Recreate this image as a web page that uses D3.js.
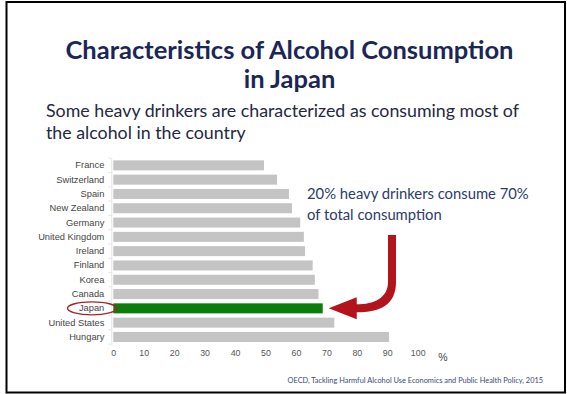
<!DOCTYPE html>
<html>
<head>
<meta charset="utf-8">
<script src="https://cdn.jsdelivr.net/npm/d3@7"></script>
<style>
  html, body { margin: 0; padding: 0; background: #fff; }
  svg { display: block; }
</style>
</head>
<body>
<svg id="chart" width="567" height="394"></svg>
<script>
// Share of total alcohol consumed by the heaviest-drinking 20% of the population
const countries = ["France", "Switzerland", "Spain", "New Zealand", "Germany", "United Kingdom",
  "Ireland", "Finland", "Korea", "Canada", "Japan", "United States", "Hungary"];
const shares = [49.5, 53.8, 57.7, 58.7, 61.4, 62.6, 63, 65.5, 66.2, 67.4, 68.8, 72.6, 90.6];
const xTicks = [0, 10, 20, 30, 40, 50, 60, 70, 80, 90, 100];
const highlight = "Japan";

const titleLines = ["Characteristics of Alcohol Consumption", "in Japan"];
const subtitleLines = ["Some heavy drinkers are characterized as consuming most of",
  "the alcohol in the country"];
const noteLines = ["20% heavy drinkers consume 70%", "of total consumption"];
const sourceText = "OECD, Tackling Harmful Alcohol Use Economics and Public Health Policy, 2015";

const data = countries.map((c, i) => ({ country: c, value: shares[i] }));

const svg = d3.select("#chart");
const sans = "Lato, 'Open Sans', sans-serif";
const arial = "'Liberation Sans', Arial, sans-serif";

// slide frame
svg.append("rect")
  .attr("x", 6.5).attr("y", 2).attr("width", 558.5).attr("height", 390.5)
  .attr("fill", "none").attr("stroke", "#000").attr("stroke-width", 2);

// headings
svg.append("g").selectAll("text").data(titleLines).join("text")
  .attr("x", 289.5).attr("y", (d, i) => 59 + i * 28.5)
  .attr("text-anchor", "middle")
  .attr("font-family", sans).attr("font-weight", 700).attr("font-size", 25.5)
  .attr("fill", "#1b2656")
  .text(d => d);

svg.append("g").selectAll("text").data(subtitleLines).join("text")
  .attr("x", 46).attr("y", (d, i) => 117 + i * 22)
  .attr("font-family", sans).attr("font-size", 17.8)
  .attr("fill", "#24283f")
  .text(d => d);

// scales
const x = d3.scaleLinear().domain([0, 100]).range([113.3, 417.7]);
const y = d3.scaleBand().domain(countries).range([158.2, 344.1])
  .paddingInner(0.3).paddingOuter(0.15);

// faint category axis
const yAxis = svg.append("g")
  .attr("transform", `translate(${x(0) - 2},0)`)
  .call(d3.axisLeft(y).tickSize(0).tickPadding(7));
yAxis.select(".domain").attr("stroke", "#e4e4e4");
yAxis.selectAll(".tick text")
  .attr("font-family", arial).attr("font-size", 9.3).attr("fill", "#444");
// small separators between categories
svg.append("g").selectAll("line").data(d3.range(countries.length + 1)).join("line")
  .attr("x1", x(0) - 5).attr("x2", x(0) - 2)
  .attr("y1", i => y.range()[0] + i * y.step())
  .attr("y2", i => y.range()[0] + i * y.step())
  .attr("stroke", "#e4e4e4");

// bars
svg.append("g").selectAll("rect").data(data).join("rect")
  .attr("x", x(0))
  .attr("y", d => y(d.country))
  .attr("width", d => x(d.value) - x(0))
  .attr("height", y.bandwidth())
  .attr("fill", d => d.country === highlight ? "#0b7d0b" : "#c4c4c4");

// value axis (labels only)
const xAxis = svg.append("g")
  .attr("transform", `translate(0,${y.range()[1] + 4})`)
  .call(d3.axisBottom(x).tickValues(xTicks).tickSize(0).tickPadding(2));
xAxis.select(".domain").remove();
xAxis.selectAll(".tick text")
  .attr("font-family", arial).attr("font-size", 8.8).attr("fill", "#555");

svg.append("text")
  .attr("x", 443).attr("y", 361)
  .attr("text-anchor", "middle")
  .attr("font-family", arial).attr("font-size", 10.5).attr("fill", "#444")
  .text("%");

// ring around the highlighted label
const yj = y(highlight) + y.bandwidth() / 2;
svg.append("ellipse")
  .attr("cx", 92).attr("cy", yj).attr("rx", 24.5).attr("ry", 6.5)
  .attr("fill", "none").attr("stroke", "#a8222a").attr("stroke-width", 1.4);

// annotation text
svg.append("g").selectAll("text").data(noteLines).join("text")
  .attr("x", 307).attr("y", (d, i) => 199 + i * 21)
  .attr("font-family", sans).attr("font-size", 14.8)
  .attr("fill", "#2b3b6b")
  .text(d => d);

// curved arrow pointing at the highlighted bar
const tipX = x(shares[countries.indexOf(highlight)]) + 6;
const shaftX = 392, shaftTop = 235, half = 4, headBase = tipX + 28, headHalf = 11;
const arrow = d3.path();
arrow.moveTo(shaftX - half, shaftTop);
arrow.lineTo(shaftX + half, shaftTop);
arrow.lineTo(shaftX + half, 282);
arrow.bezierCurveTo(shaftX + half, 305, shaftX - 12, yj + half, headBase, yj + half);
arrow.lineTo(headBase, yj + headHalf);
arrow.lineTo(tipX, yj);
arrow.lineTo(headBase, yj - headHalf);
arrow.lineTo(headBase, yj - half);
arrow.bezierCurveTo(shaftX - 18, yj - half, shaftX - half, 298, shaftX - half, 282);
arrow.closePath();
svg.append("path").attr("d", arrow.toString()).attr("fill", "#b3141c");

// source note
svg.append("text")
  .attr("x", 543).attr("y", 383)
  .attr("text-anchor", "end")
  .attr("font-family", sans).attr("font-size", 7.4)
  .attr("fill", "#3a4a7c")
  .text(sourceText);
</script>
</body>
</html>
